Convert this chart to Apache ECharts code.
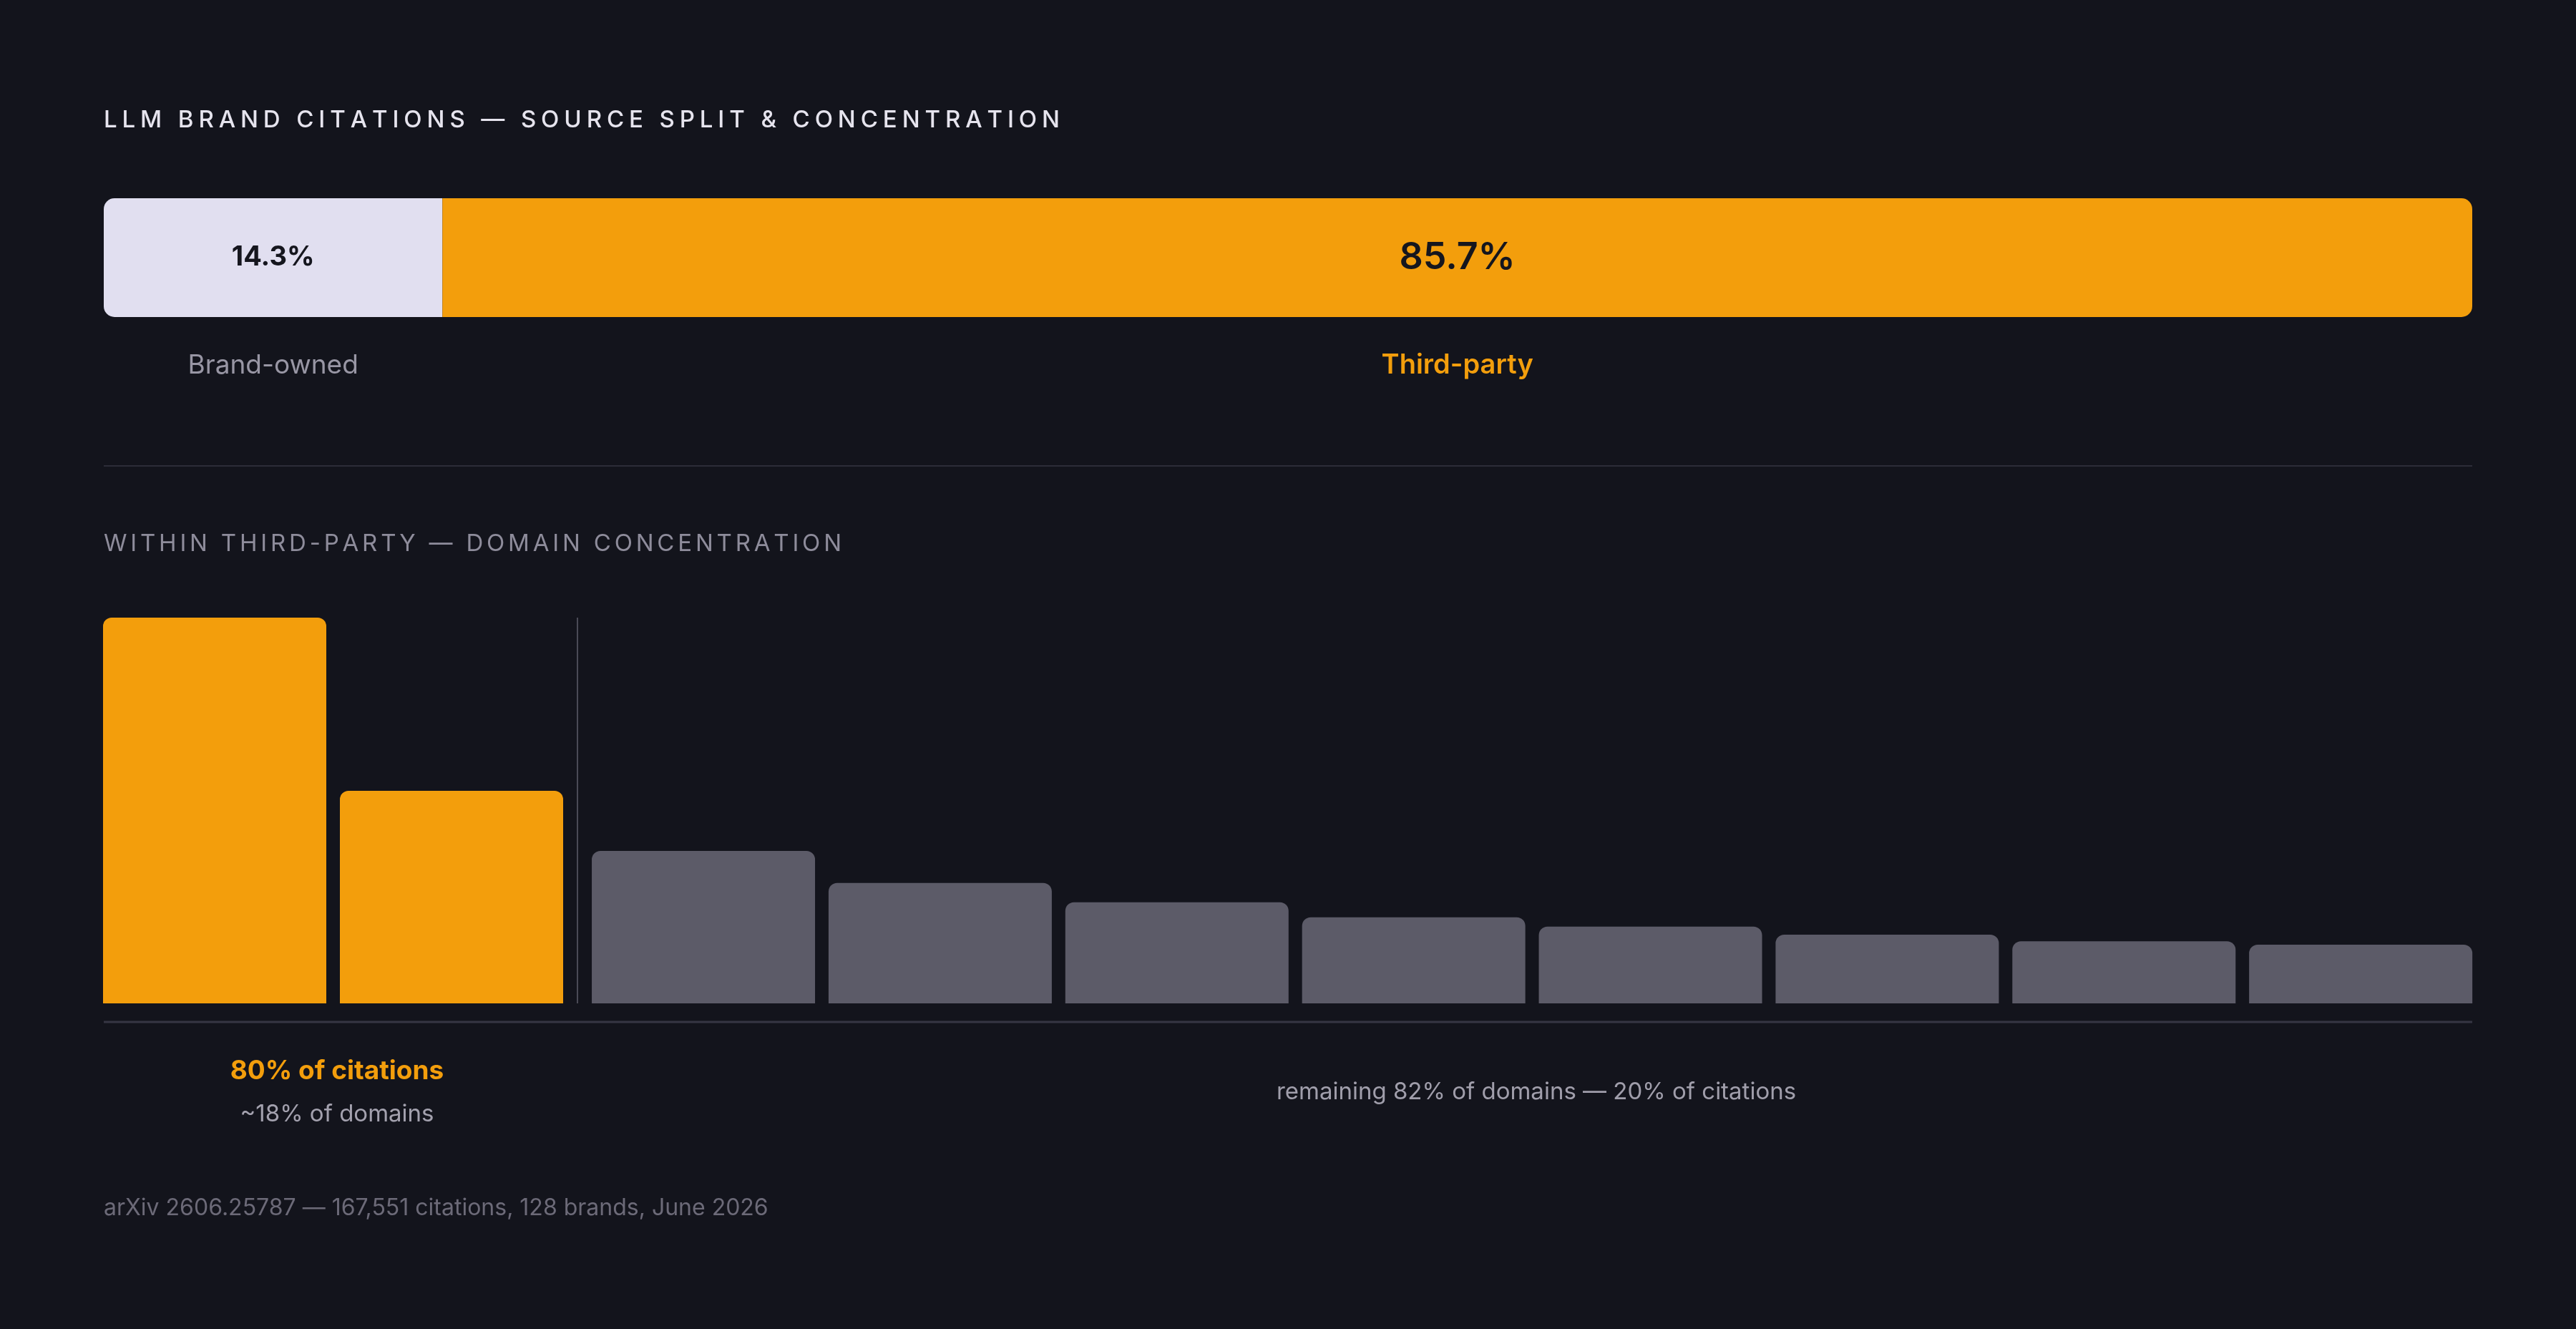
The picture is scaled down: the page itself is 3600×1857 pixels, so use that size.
<!DOCTYPE html>
<html>
<head>
<meta charset="utf-8">
<script src="https://cdn.jsdelivr.net/npm/echarts@6/dist/echarts.min.js"></script>
<style>
  html, body { margin: 0; padding: 0; background: #13141c; }
  #chart { width: 3600px; height: 1857px; }
</style>
</head>
<body>
<div id="chart"></div>
<script>
// ---------------- DATA ----------------
const segmentNames = ['Brand-owned', 'Third-party'];
const segmentShares = [14.3, 85.7];

const topDomainCategories = ['Domain 1', 'Domain 2'];
const topDomainValues = [100, 55.1];

const tailDomainCategories = ['Domain 3', 'Domain 4', 'Domain 5', 'Domain 6', 'Domain 7', 'Domain 8', 'Domain 9', 'Domain 10'];
const tailDomainValues = [39.5, 31.2, 26.2, 22.3, 19.9, 17.8, 16.1, 15.2];

const mainTitle = 'LLM BRAND CITATIONS \u2014 SOURCE SPLIT & CONCENTRATION';
const sectionTitle = 'WITHIN THIRD-PARTY \u2014 DOMAIN CONCENTRATION';
const topGroupHeadline = '80% of citations';
const topGroupSub = '~18% of domains';
const tailGroupNote = 'remaining 82% of domains \u2014 20% of citations';
const footnote = 'arXiv 2606.25787 \u2014 167,551 citations, 128 brands, June 2026';

// ---------------- STYLE ----------------
const FONT = 'Inter, "DejaVu Sans", sans-serif';
const BG = '#13141c';
const ORANGE = '#f39e0c';
const LAVENDER = '#e1dff0';
const GRAY_BAR = '#5c5b68';

// letter-spaced headings: drawn glyph by glyph (left aligned) for these strings only
function spacingFor(text, font, target) {
  const c = document.createElement('canvas').getContext('2d');
  c.font = font;
  let w = 0;
  const chars = Array.from(text);
  chars.forEach(ch => { w += c.measureText(ch).width; });
  return Math.max(0, (target - w) / (chars.length - 1));
}
const SPACED = {};
SPACED[mainTitle] = spacingFor(mainTitle, '500 33px Inter', 1336);
SPACED[sectionTitle] = spacingFor(sectionTitle, '400 33px Inter', 1031);
(function () {
  const proto = CanvasRenderingContext2D.prototype;
  const orig = proto.fillText;
  proto.fillText = function (t, x, y, mw) {
    const sp = SPACED[t];
    if (sp != null) {
      let cx = x;
      const align = this.textAlign;
      this.textAlign = 'left';
      for (const ch of t) {
        orig.call(this, ch, cx, y);
        cx += this.measureText(ch).width + sp;
      }
      this.textAlign = align;
      return;
    }
    if (mw === undefined) return orig.call(this, t, x, y);
    return orig.call(this, t, x, y, mw);
  };
})();

const chart = echarts.init(document.getElementById('chart'), null, { renderer: 'canvas', width: 3600, height: 1857 });

const shareLabelStyles = [
  { color: '#15161e', fontSize: 38, fontWeight: 700 },
  { color: '#15161e', fontSize: 52, fontWeight: 600 }
];
const nameLabelStyles = [
  { color: '#9896a4', fontSize: 37, fontWeight: 400 },
  { color: ORANGE, fontSize: 38, fontWeight: 600 }
];
const segmentColors = [LAVENDER, ORANGE];
const segmentRadius = [[15, 0, 0, 15], [0, 15, 15, 0]];

const series = [];
segmentNames.forEach((name, i) => {
  series.push({
    type: 'bar', name: name, stack: 'split', xAxisIndex: 0, yAxisIndex: 0,
    barWidth: '100%',
    data: [segmentShares[i]],
    itemStyle: { color: segmentColors[i], borderRadius: segmentRadius[i] },
    label: Object.assign({ show: true, position: 'inside', fontFamily: FONT, formatter: (p) => p.value.toFixed(1) + '%' }, shareLabelStyles[i]),
    silent: true
  });
  series.push({
    type: 'bar', name: name + ' label', stack: 'names', xAxisIndex: 1, yAxisIndex: 1,
    barWidth: '100%',
    data: [segmentShares[i]],
    itemStyle: { color: 'rgba(0,0,0,0)' },
    label: Object.assign({ show: true, position: 'inside', fontFamily: FONT, formatter: name }, nameLabelStyles[i]),
    silent: true
  });
});
series.push({
  type: 'bar', xAxisIndex: 2, yAxisIndex: 2, barWidth: 312,
  data: topDomainValues,
  itemStyle: { color: ORANGE, borderRadius: [12, 12, 0, 0] },
  silent: true
});
series.push({
  type: 'bar', xAxisIndex: 3, yAxisIndex: 3, barWidth: 312,
  data: tailDomainValues,
  itemStyle: { color: GRAY_BAR, borderRadius: [12, 12, 0, 0] },
  silent: true
});

const hiddenValue = (g, max) => ({ type: 'value', gridIndex: g, min: 0, max: max, show: false });
const hiddenCat = (g, cats) => ({ type: 'category', gridIndex: g, data: cats, show: false });

chart.setOption({
  backgroundColor: BG,
  animation: false,
  grid: [
    { left: 145, right: 145, top: 277, height: 166 },
    { left: 145, right: 145, top: 481, height: 60 },
    { left: 134.5, width: 662, top: 863, height: 539 },
    { left: 817.6, width: 2647, top: 863, height: 539 }
  ],
  xAxis: [hiddenValue(0, 100), hiddenValue(1, 100), hiddenCat(2, topDomainCategories), hiddenCat(3, tailDomainCategories)],
  yAxis: [hiddenCat(0, ['share']), hiddenCat(1, ['share']), hiddenValue(2, 100), hiddenValue(3, 100)],
  series: series,
  graphic: [
    { type: 'text', x: 145, y: 168, style: { text: mainTitle, fill: '#e6e4ee', font: '500 33px ' + FONT, textVerticalAlign: 'middle' } },
    { type: 'line', shape: { x1: 145, y1: 651, x2: 3455, y2: 651 }, style: { stroke: '#2c2c38', lineWidth: 2 } },
    { type: 'text', x: 145, y: 760, style: { text: sectionTitle, fill: '#8e8c9b', font: '400 33px ' + FONT, textVerticalAlign: 'middle' } },
    { type: 'line', shape: { x1: 807, y1: 863, x2: 807, y2: 1402 }, style: { stroke: '#4a4a56', lineWidth: 2 } },
    { type: 'line', shape: { x1: 145, y1: 1428, x2: 3455, y2: 1428 }, style: { stroke: '#363643', lineWidth: 3 } },
    { type: 'text', x: 471, y: 1497, style: { text: topGroupHeadline, fill: ORANGE, font: '700 37px ' + FONT, textAlign: 'center', textVerticalAlign: 'middle' } },
    { type: 'text', x: 471, y: 1557, style: { text: topGroupSub, fill: '#a3a1ae', font: '400 33px ' + FONT, textAlign: 'center', textVerticalAlign: 'middle' } },
    { type: 'text', x: 2147, y: 1526, style: { text: tailGroupNote, fill: '#a09eab', font: '400 33px ' + FONT, textAlign: 'center', textVerticalAlign: 'middle' } },
    { type: 'text', x: 145, y: 1688, style: { text: footnote, fill: '#6c6a78', font: '400 32px ' + FONT, textVerticalAlign: 'middle' } }
  ]
});
</script>
</body>
</html>
